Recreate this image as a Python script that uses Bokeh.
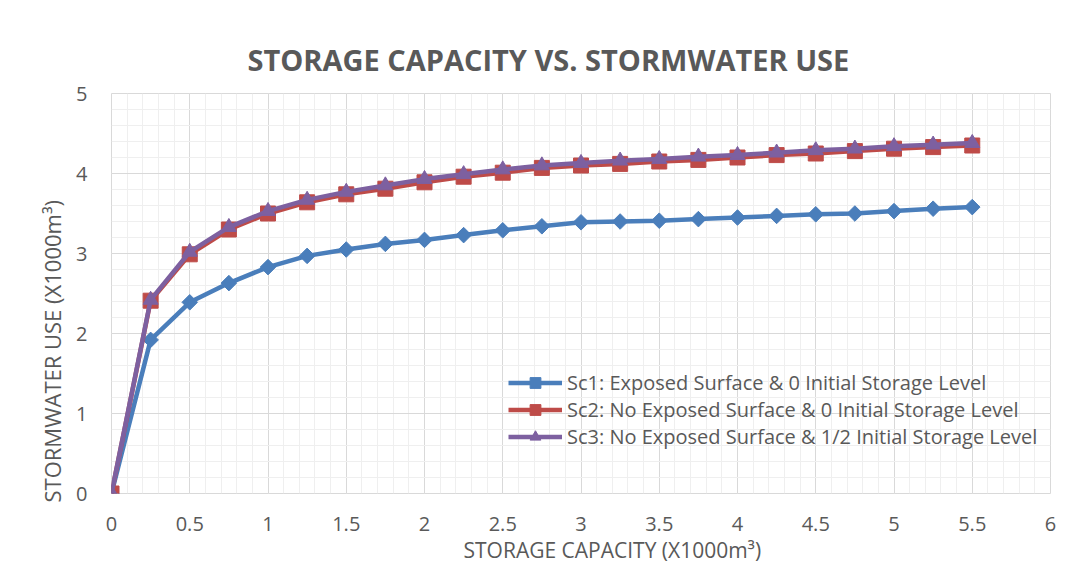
import numpy as np
from bokeh.plotting import figure
from bokeh.models import Range1d, FixedTicker, Legend, LegendItem, Title
from bokeh.embed import file_html
from bokeh.resources import INLINE

# ---- data ----
capacity = [0, 0.25, 0.5, 0.75, 1.0, 1.25, 1.5, 1.75, 2.0, 2.25, 2.5, 2.75,
            3.0, 3.25, 3.5, 3.75, 4.0, 4.25, 4.5, 4.75, 5.0, 5.25, 5.5]
sc1 = [0, 1.92, 2.39, 2.63, 2.83, 2.97, 3.05, 3.12, 3.17, 3.23, 3.29, 3.34,
       3.39, 3.40, 3.41, 3.43, 3.45, 3.47, 3.49, 3.50, 3.53, 3.56, 3.58]
sc2 = [0, 2.41, 2.99, 3.30, 3.50, 3.64, 3.74, 3.81, 3.89, 3.96, 4.01, 4.07,
       4.10, 4.12, 4.15, 4.17, 4.20, 4.23, 4.25, 4.28, 4.31, 4.33, 4.35]
sc3 = [0, 2.42, 3.02, 3.33, 3.53, 3.67, 3.77, 3.85, 3.93, 3.99, 4.05, 4.10,
       4.13, 4.16, 4.18, 4.21, 4.23, 4.26, 4.29, 4.31, 4.34, 4.36, 4.38]
series_names = ["Sc1: Exposed Surface & 0 Initial Storage Level",
                "Sc2: No Exposed Surface & 0 Initial Storage Level",
                "Sc3: No Exposed Surface & 1/2 Initial Storage Level"]
x_ticks = [0, 0.5, 1, 1.5, 2, 2.5, 3, 3.5, 4, 4.5, 5, 5.5, 6]
x_tick_labels = ["0", "0.5", "1", "1.5", "2", "2.5", "3", "3.5", "4", "4.5", "5", "5.5", "6"]
y_ticks = [0, 1, 2, 3, 4, 5]
y_tick_labels = ["0", "1", "2", "3", "4", "5"]
title_text = "STORAGE CAPACITY VS. STORMWATER USE"
x_label_text = "STORAGE CAPACITY (X1000m³)"
y_label_text = "STORMWATER USE (X1000m³)"

FONT = "Open Sans"
GRAY = "#595959"

p = figure(width=1074, height=571, x_range=Range1d(0, 6), y_range=Range1d(0, 5),
           output_backend="svg", toolbar_location=None,
           min_border_left=111, min_border_right=24, min_border_top=93, min_border_bottom=78)
p.background_fill_color = "white"
p.border_fill_color = "white"
p.outline_line_color = "#d9d9d9"
p.outline_line_width = 1

p.title.text = title_text
p.title.align = "left"
p.title.offset = 136
p.title.standoff = 30
p.title.text_font = FONT
p.title.text_font_style = "bold"
p.title.text_font_size = "29px"
p.title.text_color = GRAY

p.xaxis.ticker = FixedTicker(ticks=x_ticks, minor_ticks=list(np.arange(0, 6.001, 0.1)))
p.yaxis.ticker = FixedTicker(ticks=y_ticks, minor_ticks=list(np.arange(0, 5.001, 0.2)))
p.xaxis.major_label_overrides = {t: l for t, l in zip(x_ticks, x_tick_labels)}
p.yaxis.major_label_overrides = {t: l for t, l in zip(y_ticks, y_tick_labels)}
for ax in (p.xaxis, p.yaxis):
    ax.axis_line_color = None
    ax.major_tick_line_color = None
    ax.minor_tick_line_color = None
    ax.major_label_text_font = FONT
    ax.major_label_text_font_size = "20px"
    ax.major_label_text_color = GRAY
p.xaxis.major_label_standoff = 17
p.yaxis.major_label_standoff = 18

for g in (p.xgrid, p.ygrid):
    g.grid_line_color = "#d9d9d9"
    g.grid_line_width = 1
    g.minor_grid_line_color = "#efefef"
    g.minor_grid_line_width = 1

# axis titles as side-panel titles
xt = Title(text=x_label_text, align="left", offset=352, standoff=0,
           text_font=FONT, text_font_size="21px", text_font_style="normal", text_color=GRAY)
p.add_layout(xt, "below")
yt = Title(text=y_label_text, align="left", offset=-9, standoff=14,
           text_font=FONT, text_font_size="22px", text_font_style="normal", text_color=GRAY)
p.add_layout(yt, "left")

colors = ["#4a7ebb", "#be4b48", "#7d60a0"]
ys = [sc1, sc2, sc3]
items = []
for i, (yv, c) in enumerate(zip(ys, colors)):
    ln = p.line(capacity, yv, line_color=c, line_width=4.5)
    if i == 0:
        mk = p.scatter(capacity, yv, marker="square", angle=np.pi / 4, size=11,
                       fill_color=c, line_color=c)
    elif i == 1:
        mk = p.scatter(capacity, yv, marker="square", size=15, fill_color=c, line_color=c)
    else:
        mk = p.scatter(capacity, yv, marker="triangle", size=15, fill_color=c, line_color=c)
    items.append(LegendItem(label=series_names[i], renderers=[ln, mk]))

legend = Legend(items=items, location=(397, 43))
legend.background_fill_alpha = 0
legend.border_line_color = None
legend.padding = 0
legend.margin = 0
legend.spacing = 0
legend.glyph_width = 54
legend.glyph_height = 27
legend.label_height = 27
legend.label_standoff = 5
legend.label_text_font = FONT
legend.label_text_font_size = "20px"
legend.label_text_color = GRAY
p.add_layout(legend, "center")

open("out.html", "w").write(file_html(p, INLINE))
